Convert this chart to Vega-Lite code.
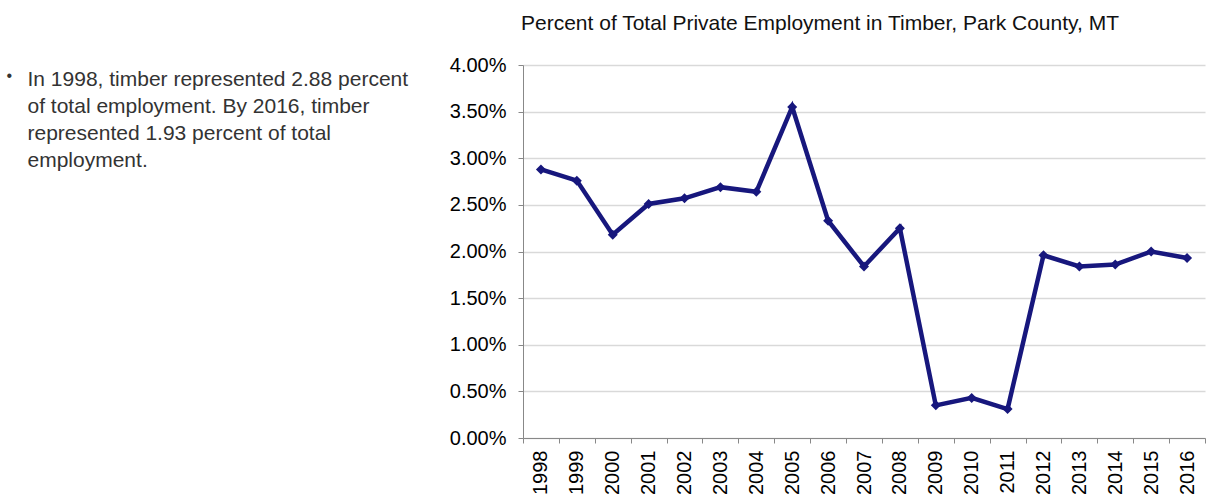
{
  "$schema": "https://vega.github.io/schema/vega-lite/v6.json",
  "width": 682,
  "height": 373,
  "autosize": "none",
  "padding": {"left": 523, "top": 65, "right": 2, "bottom": 56},
  "background": "white",
  "title": {
    "text": "Percent of Total Private Employment in Timber, Park County, MT",
    "font": "Liberation Sans",
    "fontSize": 21,
    "fontWeight": "normal",
    "color": "#111111",
    "anchor": "middle",
    "baseline": "bottom",
    "dx": -44,
    "offset": 0
  },
  "data": {
    "values": [
      {"year": "1998", "share": 0.0288},
      {"year": "1999", "share": 0.0276},
      {"year": "2000", "share": 0.0218},
      {"year": "2001", "share": 0.0251},
      {"year": "2002", "share": 0.0257},
      {"year": "2003", "share": 0.0269},
      {"year": "2004", "share": 0.0264},
      {"year": "2005", "share": 0.0355},
      {"year": "2006", "share": 0.0233},
      {"year": "2007", "share": 0.0184},
      {"year": "2008", "share": 0.0225},
      {"year": "2009", "share": 0.0035},
      {"year": "2010", "share": 0.0043},
      {"year": "2011", "share": 0.0031},
      {"year": "2012", "share": 0.0196},
      {"year": "2013", "share": 0.0184},
      {"year": "2014", "share": 0.0186},
      {"year": "2015", "share": 0.0200},
      {"year": "2016", "share": 0.0193}
    ]
  },
  "mark": {
    "type": "line",
    "color": "#17177d",
    "strokeWidth": 4.5,
    "point": {"shape": "diamond", "size": 100, "filled": true, "color": "#17177d"}
  },
  "encoding": {
    "x": {
      "field": "year",
      "type": "ordinal",
      "scale": {"type": "band", "paddingInner": 0, "paddingOuter": 0},
      "axis": {
        "title": "•",
        "titleFont": "Liberation Sans",
        "titleFontSize": 16,
        "titleFontWeight": "normal",
        "titleColor": "#333333",
        "titleAngle": 0,
        "titleAlign": "left",
        "titleBaseline": "middle",
        "titleX": -517,
        "titleY": -363,
        "tickBand": "extent",
        "labelAngle": -90,
        "labelAlign": "right",
        "labelBaseline": "middle",
        "labelFont": "Liberation Sans",
        "labelFontSize": 20,
        "labelColor": "#000000",
        "labelPadding": 7,
        "tickSize": 5,
        "tickColor": "#888888",
        "domainColor": "#888888",
        "grid": false
      }
    },
    "y": {
      "field": "share",
      "type": "quantitative",
      "scale": {"domain": [0, 0.04], "nice": false},
      "axis": {
        "values": [0, 0.005, 0.01, 0.015, 0.02, 0.025, 0.03, 0.035, 0.04],
        "format": ".2%",
        "labelFont": "Liberation Sans",
        "labelFontSize": 20,
        "labelColor": "#000000",
        "labelPadding": 12,
        "tickSize": 5,
        "tickColor": "#888888",
        "domainColor": "#888888",
        "gridColor": "#d9d9d9",
        "gridWidth": 1.5,
        "title": [
          "In 1998, timber represented 2.88 percent",
          "of total employment. By 2016, timber",
          "represented 1.93 percent of total",
          "employment."
        ],
        "titleFont": "Liberation Sans",
        "titleFontSize": 21,
        "titleFontWeight": "normal",
        "titleColor": "#333333",
        "titleAngle": 0,
        "titleAlign": "left",
        "titleBaseline": "top",
        "titleLineHeight": 27,
        "titleX": -496,
        "titleY": 3
      }
    }
  },
  "config": {"view": {"stroke": null}}
}
